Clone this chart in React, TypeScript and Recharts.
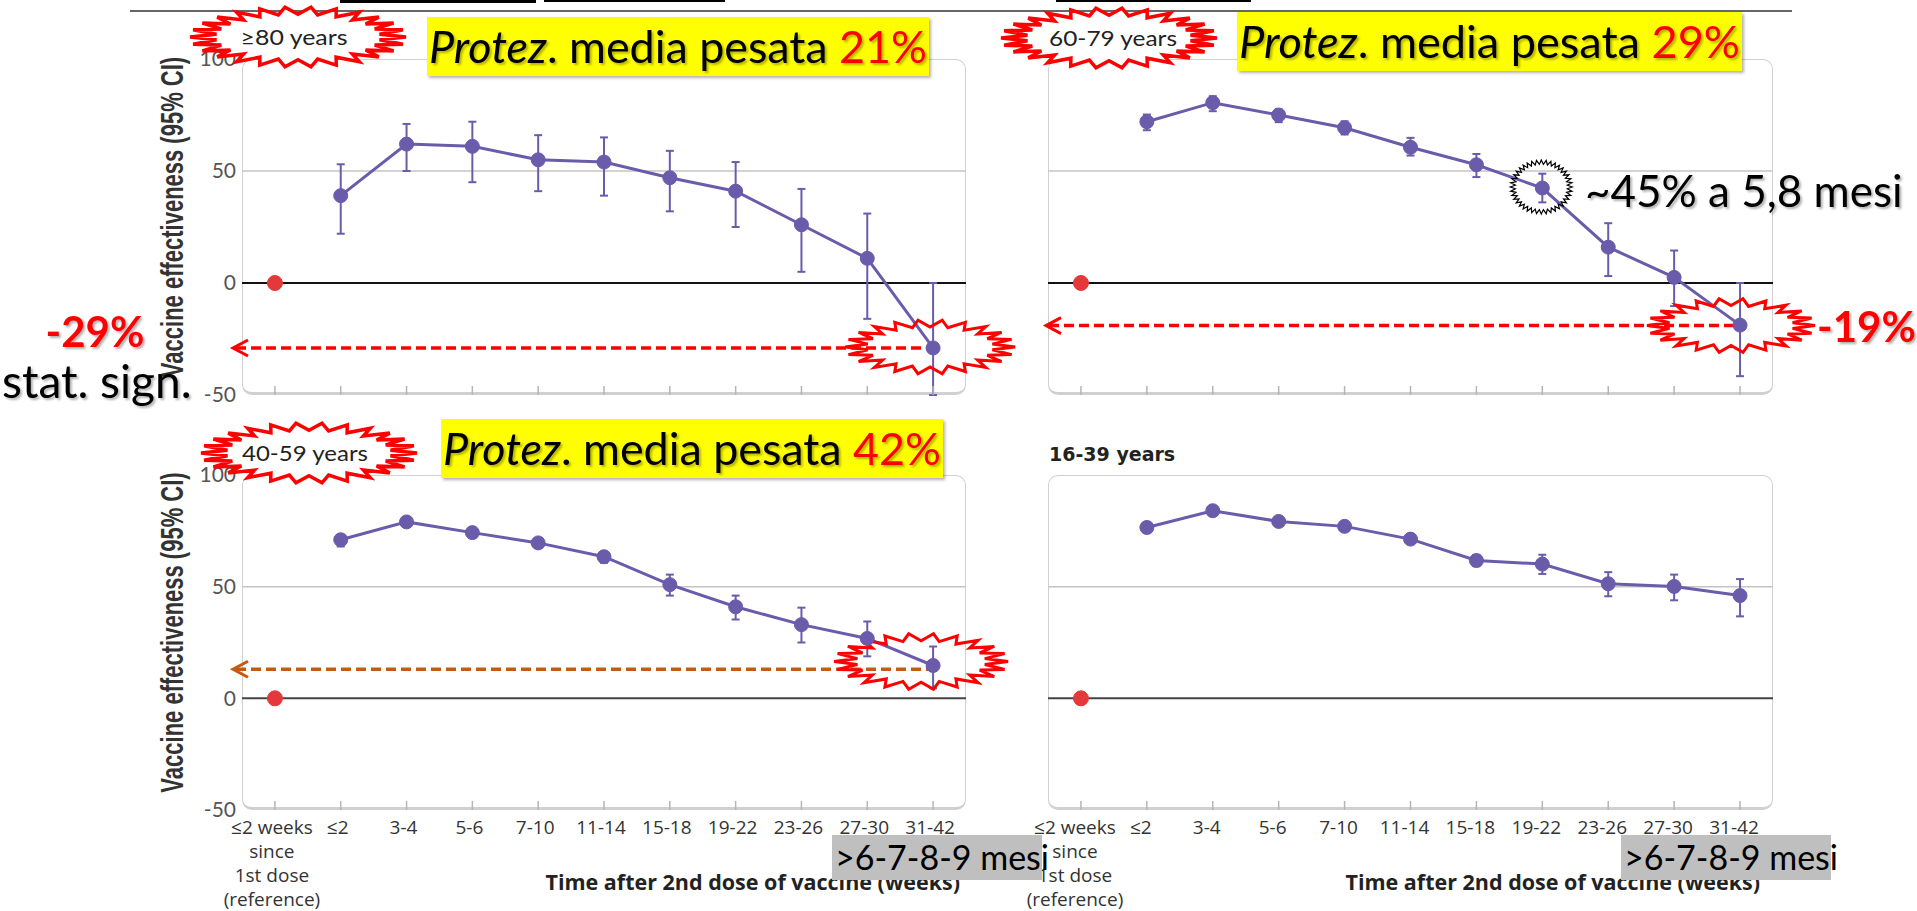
import React from 'react';
import {
  ComposedChart,
  Line,
  XAxis,
  YAxis,
  ErrorBar,
  ReferenceLine,
  ReferenceDot,
  Label,
} from 'recharts';

// Categories (time after 2nd dose, weeks)
const weeks = [
  '≤2 weeks\nsince\n1st dose\n(reference)',
  '≤2',
  '3-4',
  '5-6',
  '7-10',
  '11-14',
  '15-18',
  '19-22',
  '23-26',
  '27-30',
  '31-42',
];
const yTicks = [-50, 0, 50, 100];
const referenceVE = 0;

// ≥80 years
const ve80 = [null, 39, 62, 61, 55, 54, 47, 41, 26, 11, -29];
const lo80 = [null, 22, 50, 45, 41, 39, 32, 25, 5, -16, -50];
const hi80 = [null, 53, 71, 72, 66, 65, 59, 54, 42, 31, 0];

// 60-79 years
const ve6079 = [null, 72, 80.5, 75, 69.3, 60.6, 52.8, 42.4, 16, 2.5, -18.8];
const lo6079 = [null, 68.2, 76.7, 71.8, 66.3, 56.9, 47.3, 36, 3.1, -10.3, -41.6];
const hi6079 = [null, 75.2, 83.4, 77.5, 72.2, 64.8, 57.6, 48.8, 26.7, 14.5, 0];

// 40-59 years
const ve4059 = [null, 71, 79, 74.2, 69.6, 63.4, 50.9, 41, 33, 26.8, 14.7];
const lo4059 = [null, 68, 77, 72, 67.4, 60.7, 46, 35.3, 25, 18.8, 4.5];
const hi4059 = [null, 73, 81, 76.3, 71.4, 65.6, 55.4, 46, 40.6, 34.4, 23.2];

// 16-39 years
const ve1639 = [null, 76.5, 84, 79.2, 77, 71.3, 61.7, 60.1, 51.3, 50.1, 46];
const lo1639 = [null, 75, 82.8, 78, 75.8, 70, 59.2, 55.7, 45.7, 43.9, 36.7];
const hi1639 = [null, 78, 85.2, 80.4, 78.2, 72.6, 64.2, 64.3, 56.5, 55.4, 53.4];

// annotation values
const arrow80 = -29;
const arrow6079 = -19;
const arrow4059 = 13;
const mark6079 = { week: '19-22', value: 42.4 };

const PURPLE = '#6a5bab';
const RED_DOT = '#e5383b';
const Y_AXIS_W = 110;
const M_TOP = 20;
const M_RIGHT = 70;

const BOXES = [
  { left: 242, top: 59, width: 724, height: 336 },
  { left: 1048, top: 59, width: 725, height: 336 },
  { left: 242, top: 475, width: 724, height: 335 },
  { left: 1048, top: 475, width: 725, height: 335 },
];

const buildRows = (ve: (number | null)[], lo: (number | null)[], hi: (number | null)[]) =>
  weeks.map((week, i) => ({
    week,
    ref: i === 0 ? referenceVE : null,
    ve: ve[i],
    err: ve[i] == null ? null : [(ve[i] as number) - (lo[i] as number), (hi[i] as number) - (ve[i] as number)],
  }));

function burstPoints(cx: number, cy: number, rx: number, ry: number, n: number, inner: number) {
  const pts: string[] = [];
  for (let k = 0; k < n * 2; k++) {
    const a = (Math.PI * k) / n;
    const f = k % 2 === 0 ? 1 : inner;
    pts.push(`${(cx + rx * f * Math.cos(a)).toFixed(1)},${(cy + ry * f * Math.sin(a)).toFixed(1)}`);
  }
  return pts.join(' ');
}

const burstShape =
  (rx: number, ry: number, n: number, inner: number, stroke: string, sw: number, dx = 0, dy = 0) =>
  (props: any) => (
    <polygon
      points={burstPoints(props.cx + dx, props.cy + dy, rx, ry, n, inner)}
      fill="none"
      stroke={stroke}
      strokeWidth={sw}
    />
  );

const arrowShape = (color: string, tipOffset: number) => (props: any) => {
  const { x1, x2, y1 } = props;
  const half = (x2 - x1) / 22;
  const tip = x1 - tipOffset;
  return (
    <g>
      <line x1={tip + 3} y1={y1} x2={x2 - half} y2={y1} stroke={color} strokeWidth={3.5} strokeDasharray="10 5" />
      <polyline
        points={`${tip + 15},${y1 - 8} ${tip},${y1} ${tip + 15},${y1 + 8}`}
        fill="none"
        stroke={color}
        strokeWidth={3}
      />
    </g>
  );
};

// tick mark pointing up into the frame + optional multi-line label
const makeTick = (axisY: number, showLabels: boolean, shift: number) => (props: any) => {
  const { x, payload } = props;
  const lines = String(payload.value).split('\n');
  return (
    <g>
      <line x1={x} x2={x} y1={axisY - 9} y2={axisY} stroke="#b5b5b5" strokeWidth={1.5} />
      {showLabels && (
        <text x={x + shift} y={axisY + 24} textAnchor="middle" fontFamily="'Open Sans', sans-serif" fontSize={19} fill="#333">
          {lines.map((l, i) => (
            <tspan key={i} x={x + shift} dy={i === 0 ? 0 : 24}>
              {l}
            </tspan>
          ))}
        </text>
      )}
    </g>
  );
};

const yTitle = (props: any) => {
  const vb = props.viewBox;
  const cx = vb.x + 40;
  const cy = vb.y + vb.height / 2 - 10;
  return (
    <text
      transform={`translate(${cx},${cy}) scale(1.45,1) rotate(-90)`}
      textAnchor="middle"
      dominantBaseline="central"
      fontFamily="'Liberation Sans', sans-serif"
      fontWeight="bold"
      fontSize={22}
      fill="#333"
    >
      Vaccine effectiveness (95% CI)
    </text>
  );
};

const xTitle = (endShift: number) => (props: any) => {
  const vb = props.viewBox;
  return (
    <text
      x={vb.x + vb.width - endShift}
      y={vb.y + 80}
      textAnchor="end"
      fontFamily="'Open Sans', sans-serif"
      fontWeight="bold"
      fontSize={21.5}
      fill="#222"
    >
      Time after 2nd dose of vaccine (weeks)
    </text>
  );
};

interface PanelProps {
  box: { left: number; top: number; width: number; height: number };
  rows: any[];
  leftSide: boolean;
  bottomRow: boolean;
  children?: React.ReactNode;
}

const Panel: React.FC<PanelProps> = ({ box, rows, leftSide, bottomRow, children }) => {
  const xH = bottomRow ? 100 : 20;
  const halfBand = box.width / 22;
  return (
    <>
      {/* rounded plot frame */}
      <div
        style={{
          position: 'absolute',
          left: box.left,
          top: box.top,
          width: box.width,
          height: box.height,
          boxSizing: 'border-box',
          border: '1.5px solid #d0d0d0',
          borderBottom: '3px solid #d0d0d0',
          borderRadius: 10,
        }}
      />
      <div style={{ position: 'absolute', left: box.left - Y_AXIS_W, top: box.top - M_TOP }}>
        <ComposedChart
          width={Y_AXIS_W + box.width + M_RIGHT}
          height={M_TOP + box.height + xH}
          data={rows}
          margin={{ top: M_TOP, right: M_RIGHT, bottom: 0, left: 0 }}
        >
          <XAxis
            dataKey="week"
            type="category"
            interval={0}
            height={xH}
            padding={{ left: halfBand, right: halfBand }}
            axisLine={false}
            tickLine={false}
            tickSize={0}
            tickMargin={0}
            tick={makeTick(M_TOP + box.height, bottomRow, leftSide ? -3 : -6)}
          >
            {bottomRow && <Label content={xTitle(leftSide ? 6 : 13)} />}
          </XAxis>
          <YAxis
            type="number"
            domain={[-50, 100]}
            ticks={yTicks}
            allowDataOverflow
            width={Y_AXIS_W}
            axisLine={false}
            tickLine={false}
            tickSize={0}
            tickMargin={6}
            tick={leftSide ? { fontFamily: 'Lato, sans-serif', fontSize: 21, fill: '#555' } : false}
          >
            {leftSide && <Label content={yTitle} />}
          </YAxis>
          <ReferenceLine y={50} stroke="#c4c4c4" strokeWidth={1.5} />
          <ReferenceLine y={0} stroke={bottomRow ? '#444' : '#111'} strokeWidth={2} />
          {children}
          <Line
            dataKey="ve"
            type="linear"
            stroke={PURPLE}
            strokeWidth={3}
            dot={{ r: 7, fill: PURPLE, stroke: PURPLE, strokeWidth: 1 }}
            activeDot={false}
            isAnimationActive={false}
          >
            <ErrorBar dataKey="err" width={4} stroke={PURPLE} strokeWidth={2} direction="y" />
          </Line>
          <Line
            dataKey="ref"
            stroke="none"
            dot={{ r: 7.5, fill: RED_DOT, stroke: RED_DOT, strokeWidth: 1 }}
            activeDot={false}
            isAnimationActive={false}
          />
        </ComposedChart>
      </div>
    </>
  );
};

const shadow = 'url(#txtShadow)';
const calibriLike = 'Lato, sans-serif';

const YellowTitle = ({ x, y, w, pct }: { x: number; y: number; w: number; pct: string }) => (
  <g>
    <rect x={x} y={y} width={w} height={59} fill="#ffff00" filter="url(#boxShadow)" />
    <text
      x={x + 2}
      y={y + 46}
      fontFamily={calibriLike}
      fontSize={45}
      fill="#000"
      filter={shadow}
      textLength={w - 4}
      lengthAdjust="spacingAndGlyphs"
    >
      <tspan fontStyle="italic">Protez</tspan>
      {'. media pesata '}
      <tspan fill="#ff0000">{pct}</tspan>
    </text>
  </g>
);

const AgeBurst = ({ cx, cy, tx, label, tw }: { cx: number; cy: number; tx: number; label: string; tw: number }) => (
  <g>
    <polygon points={burstPoints(cx, cy, 108, 30, 26, 0.76)} fill="#fff" stroke="#ff0000" strokeWidth={3.5} />
    <text
      x={tx - tw / 2}
      y={cy + 8}
      fontFamily={calibriLike}
      fontSize={22}
      fill="#222"
      textLength={tw}
      lengthAdjust="spacingAndGlyphs"
    >
      {label}
    </text>
  </g>
);

const GreyTag = ({ x }: { x: number }) => (
  <g>
    <rect x={x} y={835} width={210} height={45} fill="#bfbfbf" />
    <text x={x + 3} y={870} fontFamily={calibriLike} fontSize={34} fill="#000">
      {'>6-7-8-9 mesi'}
    </text>
  </g>
);

export default function App() {
  const rows80 = buildRows(ve80, lo80, hi80);
  const rows6079 = buildRows(ve6079, lo6079, hi6079);
  const rows4059 = buildRows(ve4059, lo4059, hi4059);
  const rows1639 = buildRows(ve1639, lo1639, hi1639);
  const last = weeks[weeks.length - 1];

  return (
    <div
      style={{
        position: 'absolute',
        left: 0,
        top: 0,
        width: 1917,
        height: 911,
        background: '#fff',
        overflow: 'hidden',
      }}
    >
      <Panel box={BOXES[0]} rows={rows80} leftSide bottomRow={false}>
        <ReferenceLine y={arrow80} ifOverflow="visible" shape={arrowShape('#ff0000', 9)} />
        <ReferenceDot x={last} y={arrow80} ifOverflow="visible" shape={burstShape(85, 27, 22, 0.74, '#ff0000', 3, -3, -1)} />
      </Panel>
      <Panel box={BOXES[1]} rows={rows6079} leftSide={false} bottomRow={false}>
        <ReferenceLine y={arrow6079} ifOverflow="visible" shape={arrowShape('#ff0000', 2)} />
        <ReferenceDot x={last} y={arrow6079} ifOverflow="visible" shape={burstShape(84, 27, 22, 0.74, '#ff0000', 3, -9, 0)} />
        <ReferenceDot
          x={mark6079.week}
          y={mark6079.value}
          ifOverflow="visible"
          shape={burstShape(31, 27, 40, 0.84, '#000', 1.2, -1, -1)}
        />
      </Panel>
      <Panel box={BOXES[2]} rows={rows4059} leftSide bottomRow>
        <ReferenceLine y={arrow4059} ifOverflow="visible" shape={arrowShape('#c55a11', 9)} />
        <ReferenceDot x={last} y={ve4059[10] as number} ifOverflow="visible" shape={burstShape(87, 28, 22, 0.74, '#ff0000', 3, -12, -4)} />
      </Panel>
      <Panel box={BOXES[3]} rows={rows1639} leftSide={false} bottomRow />

      {/* slide annotations */}
      <svg width={1917} height={911} style={{ position: 'absolute', left: 0, top: 0, pointerEvents: 'none' }}>
        <defs>
          <filter id="txtShadow" x="-10%" y="-10%" width="130%" height="140%">
            <feDropShadow dx="2" dy="2" stdDeviation="1.2" floodColor="#000" floodOpacity="0.3" />
          </filter>
          <filter id="boxShadow" x="-5%" y="-10%" width="110%" height="130%">
            <feDropShadow dx="2" dy="2" stdDeviation="1.5" floodColor="#000" floodOpacity="0.3" />
          </filter>
        </defs>

        {/* cut-off header remnants */}
        <line x1={130} y1={11} x2={1792} y2={11} stroke="#666" strokeWidth={2} />
        <rect x={340} y={0} width={196} height={3} fill="#000" />
        <rect x={544} y={0} width={181} height={2} fill="#000" />
        <rect x={1056} y={0} width={195} height={2} fill="#000" />

        <AgeBurst cx={298} cy={37} tx={294} tw={107} label="≥80 years" />
        <AgeBurst cx={1109} cy={38} tx={1113} tw={128} label="60-79 years" />
        <AgeBurst cx={309} cy={453} tx={305} tw={126} label="40-59 years" />

        <YellowTitle x={427} y={17} w={502} pct="21%" />
        <YellowTitle x={1237} y={12} w={505} pct="29%" />
        <YellowTitle x={441} y={419} w={502} pct="42%" />

        <text x={1049} y={461} fontFamily="'DejaVu Sans', sans-serif" fontWeight="bold" fontSize={19} fill="#222">
          16-39 years
        </text>

        <text x={95} y={347} textAnchor="middle" fontFamily={calibriLike} fontWeight="bold" fontSize={42} fill="#ff0000" filter={shadow}>
          -29%
        </text>
        <text x={2} y={398} fontFamily={calibriLike} fontSize={46} fill="#000" filter={shadow}>
          stat. sign.
        </text>
        <text x={1817} y={342} fontFamily={calibriLike} fontWeight="bold" fontSize={42} fill="#ff0000" filter={shadow}>
          -19%
        </text>
        <text x={1585} y={207} fontFamily={calibriLike} fontSize={44} fill="#000" filter={shadow}>
          ~45% a 5,8 mesi
        </text>

        <GreyTag x={832} />
        <GreyTag x={1621} />
      </svg>
    </div>
  );
}
